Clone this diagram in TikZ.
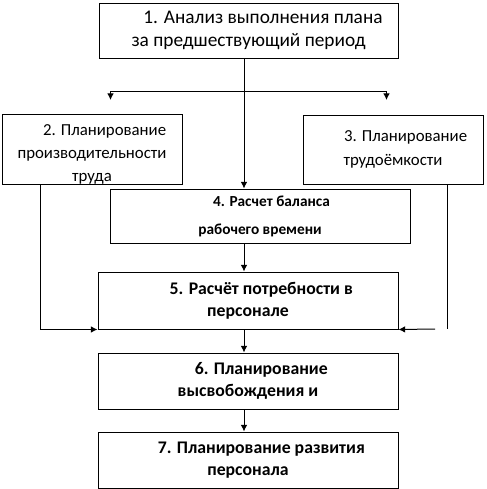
\documentclass[tikz,border=0pt]{standalone}
\usepackage{fontspec}
\setmainfont{Carlito}
\usepackage{tikz}
\usetikzlibrary{positioning,arrows.meta}
\newcommand{\lead}{\hspace*{1.5em}}
\newcommand{\headtxt}{\fontsize{14.5}{17}\selectfont}
\newcommand{\sidetxt}{\fontsize{12.6}{17.5}\selectfont}
\newcommand{\baltxt}{\fontsize{11.5}{21}\selectfont\bfseries}
\newcommand{\steptxt}{\fontsize{13.3}{16.5}\selectfont\bfseries}

\begin{document}
\begin{tikzpicture}[
x=0.75pt, y=-0.75pt,
line width=0.75pt,
box/.style={draw, inner sep=0pt, align=center, minimum width=225pt, minimum height=42pt},
sidebox/.style={draw, inner sep=0pt, align=center, minimum width=135pt, minimum height=51.75pt},
arrow/.style={-{Latex[length=5pt,width=5pt]}}
]
\useasboundingbox (0,0) rectangle (486,489);

\node[box, font=\headtxt, minimum width=224.25pt, minimum height=41.25pt] (anal) at (248.5,30.5) {\lead 1. Анализ выполнения плана\\за предшествующий период};
\node[sidebox, font=\sidetxt] (prod) at (92,149.5) {\rule{0pt}{15.5pt}\lead 2. Планирование\\производительности\\труда};
\node[sidebox, font=\sidetxt] (labor) at (393,149.5) {\lead 3. Планирование\\трудоёмкости};
\node[box, font=\baltxt, minimum height=40.5pt] (bal) at (260,216) {\lead 4. Расчет баланса\\рабочего времени};
\node[box, font=\steptxt, minimum height=42.75pt] (need) at (248,300.5) {\lead 5. Расчёт потребности в\\персонале};
\node[box, font=\steptxt, below=17.25pt of need] (free) {\lead 6. Планирование\\высвобождения и};
\node[box, font=\steptxt, below=16.5pt of free] (dev) {\lead 7. Планирование развития\\персонала};

% free ends of the connectors
\coordinate (trunk) at (244,91);
\coordinate (tipL) at (110.5,100);
\coordinate (tipR) at (386.5,100);
\coordinate (lrail) at (40,329);
\coordinate (rrail) at (447.5,329);
\coordinate (rgap) at (435,329);

\draw[arrow] (anal.south -| trunk) -- (bal.north -| trunk);
\draw[arrow] (trunk) -| (tipL);
\draw[arrow] (trunk) -| (tipR);
\draw[arrow] (bal.south -| trunk) -- (need.north -| trunk);
\draw[arrow] (need.south -| trunk) -- (free.north -| trunk);
\draw[arrow] (free.south -| trunk) -- (dev.north -| trunk);
\draw[arrow] (prod.south -| lrail) |- (need.south west);
\draw (labor.south -| rrail) -- (rrail);
\draw[arrow] (rgap) -- (need.south east);
\end{tikzpicture}
\end{document}
